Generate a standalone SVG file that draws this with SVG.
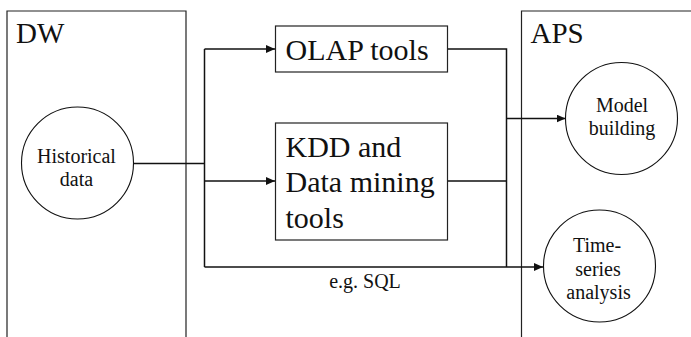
<svg xmlns="http://www.w3.org/2000/svg" width="691" height="337" viewBox="0 0 691 337">
<defs>
<marker id="arr" markerWidth="10" markerHeight="8" refX="9" refY="4" orient="auto" markerUnits="userSpaceOnUse">
<path d="M0,0 L9,4 L0,8 Z" fill="#111"/>
</marker>
<style>
.box{fill:#fff;stroke:#222;stroke-width:1.2}
.circ{fill:#fff;stroke:#111;stroke-width:1.1}
.con{fill:none;stroke:#111;stroke-width:1.5}
text{font-family:'Liberation Serif','Times New Roman',serif;fill:#111}
.big{font-size:29px}
.mid{font-size:30px}
.sm{font-size:20px;text-anchor:middle}
</style>
</defs>
<rect width="691" height="337" fill="#fff"/>
<g id="dw">
<path class="box" d="M7,345 V11 H186 V345"/>
<text class="big" x="16" y="43">DW</text>
</g>
<g id="aps">
<path class="box" d="M521.5,345 V11 H700"/>
<text class="big" x="530.5" y="43">APS</text>
</g>
<g id="connectors">
<path class="con" d="M133,163.5 H204.5 M204.5,49 V267"/>
<path class="con" d="M204.5,49 H275" marker-end="url(#arr)"/>
<path class="con" d="M204.5,181 H275" marker-end="url(#arr)"/>
<path class="con" d="M204.5,267 H543" marker-end="url(#arr)"/>
<path class="con" d="M447,49 H506.5 V267 M447,181 H506.5"/>
<path class="con" d="M506.5,118.5 H565.5" marker-end="url(#arr)"/>
<text class="sm" x="365" y="288">e.g. SQL</text>
</g>
<g id="historical">
<circle class="circ" cx="77.5" cy="163" r="56"/>
<text class="sm" x="76.5" y="162.5">Historical</text>
<text class="sm" x="76.5" y="185.5">data</text>
</g>
<g id="olap">
<rect class="box" x="275.5" y="26" width="172" height="46"/>
<text class="mid" x="285.5" y="60">OLAP tools</text>
</g>
<g id="kdd">
<rect class="box" x="275.5" y="123" width="172" height="117"/>
<text class="mid" x="285.5" y="156.5">KDD and</text>
<text class="mid" x="285.5" y="192">Data mining</text>
<text class="mid" x="285.5" y="228">tools</text>
</g>
<g id="model">
<circle class="circ" cx="621.5" cy="118.5" r="56"/>
<text class="sm" x="622" y="112">Model</text>
<text class="sm" x="622" y="135">building</text>
</g>
<g id="timeseries">
<circle class="circ" cx="599.5" cy="266" r="56"/>
<text class="sm" x="597" y="252">Time-</text>
<text class="sm" x="598" y="275.5">series</text>
<text class="sm" x="598.5" y="298.5">analysis</text>
</g>
</svg>
